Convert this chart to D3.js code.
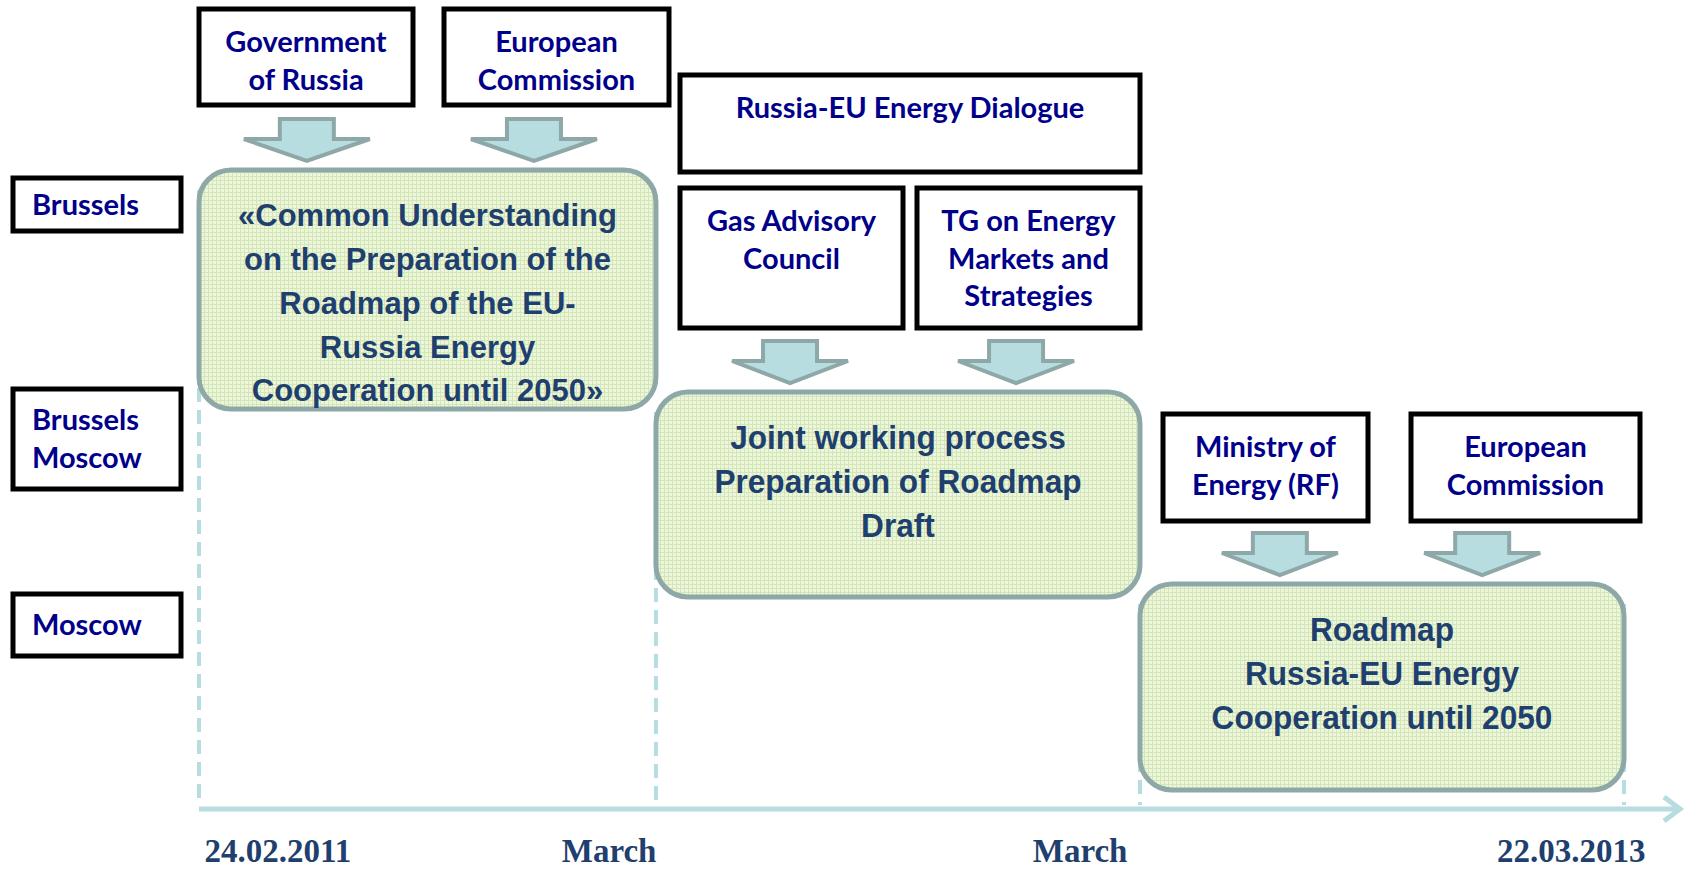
<!DOCTYPE html>
<html>
<head>
<meta charset="utf-8">
<script src="https://cdn.jsdelivr.net/npm/d3@7"></script>
<style>
    body { margin: 0; background: #fff; }
</style>
</head>
<body>
<script>
// ---- data ---------------------------------------------------------------
// labels under the timeline and where they fall on it (0 = start, 3 = end)
var tickLabels = ["24.02.2011", "March", "March", "22.03.2013"];
var tickPos = [0, 0.962, 1.981, 3];

// places on the left, one per stage
var places = [["Brussels"], ["Brussels", "Moscow"], ["Moscow"]];

// the three stages, each one sits between two timeline marks
var stages = [
    ["«Common Understanding", "on the Preparation of the",
     "Roadmap of the EU-", "Russia Energy", "Cooperation until 2050»"],
    ["Joint working process", "Preparation of Roadmap", "Draft"],
    ["Roadmap", "Russia-EU Energy", "Cooperation until 2050"]
];

// who feeds into each stage
var actors = [
    [["Government", "of Russia"], ["European", "Commission"]],
    [["Gas Advisory", "Council"], ["TG on Energy", "Markets and", "Strategies"]],
    [["Ministry of", "Energy (RF)"], ["European", "Commission"]]
];
var umbrella = ["Russia-EU Energy Dialogue"];   // over the stage 2 actors

// ---- layout -------------------------------------------------------------
var width = 1686, height = 872;
var axisY = 809;
var stageY = [[170, 409], [392, 597], [584, 790]];
var placeY = [[178, 231], [389, 489], [594, 656]];
var actorY = [[9, 105], [188, 328], [414, 521]];
var actorX = [[[199, 413], [444, 669]],
              [[680, 903], [917, 1140]],
              [[1163, 1368], [1411, 1640]]];
var umbrellaBox = {x0: 680, x1: 1140, y0: 75, y1: 172};
// where the two arrows sit across each stage box
var arrowAt = [[0.236, 0.733], [0.277, 0.744], [0.289, 0.707]];

var navy = "#00008a", slate = "#1f3f6e", teal = "#b7dde0",
    tealEdge = "#8ea8a8", labelFont = "Lato, 'Noto Sans', sans-serif";

var x = d3.scaleLinear().domain([0, 3]).range([199, 1624]);

var svg = d3.select("body").append("svg")
    .attr("width", width)
    .attr("height", height);

// fine grid fill of the stage boxes
var pat = svg.append("defs").append("pattern")
    .attr("id", "grid")
    .attr("width", 4).attr("height", 4)
    .attr("patternUnits", "userSpaceOnUse");
pat.append("rect").attr("width", 4).attr("height", 4).attr("fill", "#edf6dc");
pat.append("path").attr("d", "M0,0.5H4M0.5,0V4")
    .attr("stroke", "#d3e7b6").attr("stroke-width", 1);

// dashed guides at every timeline mark
svg.selectAll(".guide")
    .data(tickPos)
    .enter().append("line")
    .attr("class", "guide")
    .attr("x1", function(d) { return x(d); })
    .attr("x2", function(d) { return x(d); })
    .attr("y1", function(d, i) { return stageY[Math.min(i, 2)][0] + 20; })
    .attr("y2", axisY - 4)
    .attr("stroke", teal)
    .attr("stroke-width", 4)
    .attr("stroke-dasharray", "14 8");

// timeline with its arrow
svg.append("line")
    .attr("x1", x(0)).attr("x2", 1678)
    .attr("y1", axisY).attr("y2", axisY)
    .attr("stroke", teal).attr("stroke-width", 5);
svg.append("path")
    .attr("d", "M1664,797L1680,809L1664,821")
    .attr("fill", "none").attr("stroke", teal).attr("stroke-width", 5);

var dx = [5, 0, -13, 21];
var anchors = ["start", "end", "end", "end"];
var axis = d3.axisBottom(x)
    .tickValues(tickPos)
    .tickSize(0)
    .tickFormat(function(d, i) { return tickLabels[i]; });
var ax = svg.append("g")
    .attr("transform", "translate(0," + axisY + ")")
    .call(axis);
ax.select(".domain").remove();
ax.selectAll("text")
    .attr("y", 53).attr("dy", 0)
    .attr("dx", function(d, i) { return dx[i]; })
    .style("text-anchor", function(d, i) { return anchors[i]; })
    .attr("fill", slate)
    .attr("font-family", "'Liberation Serif', 'DejaVu Serif', serif")
    .attr("font-weight", "bold")
    .attr("font-size", 33);

// black boxes with navy words
function labelBox(x0, x1, y0, y1, lines, align) {
    svg.append("rect")
        .attr("x", x0).attr("y", y0)
        .attr("width", x1 - x0).attr("height", y1 - y0)
        .attr("fill", "#fff").attr("stroke", "#000").attr("stroke-width", 5);
    var lh = 37.5;
    var first = align == "top" ? y0 + 33
        : (y0 + y1) / 2 - (lines.length - 1) * lh / 2;
    var t = svg.append("text")
        .attr("font-family", labelFont)
        .attr("font-weight", "bold")
        .attr("font-size", 29)
        .attr("fill", navy)
        .attr("text-anchor", align == "top" ? "middle" : "start");
    lines.forEach(function(s, i) {
        t.append("tspan")
            .attr("x", align == "top" ? (x0 + x1) / 2 : x0 + 19)
            .attr("y", first + i * lh + 10)
            .text(s);
    });
}

places.forEach(function(p, i) {
    labelBox(13, 181, placeY[i][0], placeY[i][1], p, "left");
});

actors.forEach(function(pair, s) {
    pair.forEach(function(a, j) {
        labelBox(actorX[s][j][0], actorX[s][j][1],
                 actorY[s][0], actorY[s][1], a, "top");
    });
});
labelBox(umbrellaBox.x0, umbrellaBox.x1, umbrellaBox.y0, umbrellaBox.y1,
         umbrella, "top");

// block arrows down into each stage
function blockArrow(cx, tip, half) {
    var pts = [[cx - 27, tip - 42], [cx + 27, tip - 42], [cx + 27, tip - 22],
               [cx + half, tip - 22], [cx, tip], [cx - half, tip - 22],
               [cx - 27, tip - 22]];
    svg.append("polygon")
        .attr("points", pts.map(function(p) { return p.join(","); }).join(" "))
        .attr("fill", teal)
        .attr("stroke", tealEdge)
        .attr("stroke-width", 4)
        .attr("stroke-linejoin", "miter");
}

// stage boxes
var fontSize = [31, 34, 34], squeeze = [1, 0.93, 0.93];
stages.forEach(function(lines, s) {
    var x0 = x(tickPos[s]), x1 = x(tickPos[s + 1]);
    var y0 = stageY[s][0], y1 = stageY[s][1];
    arrowAt[s].forEach(function(f) {
        blockArrow(x0 + (x1 - x0) * f, y0 - 9, s == 0 ? 63 : 58);
    });
    svg.append("rect")
        .attr("x", x0).attr("y", y0)
        .attr("width", x1 - x0).attr("height", y1 - y0)
        .attr("rx", 32).attr("ry", 32)
        .attr("fill", "url(#grid)")
        .attr("stroke", tealEdge).attr("stroke-width", 5);
    var g = svg.append("g")
        .attr("transform", "translate(" + (x0 + x1) / 2 + "," + (y0 + 45)
              + ") scale(" + squeeze[s] + ",1)");
    g.selectAll("text")
        .data(lines)
        .enter().append("text")
        .attr("x", 0)
        .attr("y", function(d, i) { return i * 43.8 + fontSize[s] * 0.36; })
        .attr("text-anchor", "middle")
        .attr("font-family", "'Liberation Sans', Arial, sans-serif")
        .attr("font-weight", "bold")
        .attr("font-size", fontSize[s])
        .attr("fill", slate)
        .text(function(d) { return d; });
});
</script>
</body>
</html>
